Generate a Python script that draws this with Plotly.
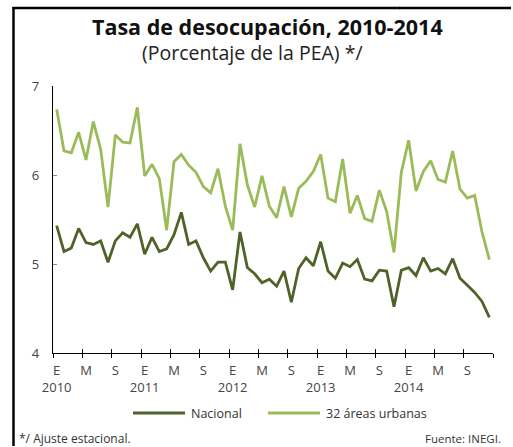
import plotly.graph_objects as go

# ---- data ----
years = [2010, 2011, 2012, 2013, 2014]
month_initials = ["E", "F", "M", "A", "M", "J", "J", "A", "S", "O", "N", "D"]
series_names = ["Nacional", "32 áreas urbanas"]

nacional = [
    5.43, 5.14, 5.18, 5.40, 5.24, 5.22, 5.26, 5.02, 5.26, 5.35, 5.30, 5.45,
    5.11, 5.30, 5.14, 5.17, 5.33, 5.58, 5.22, 5.26, 5.07, 4.92, 5.02, 5.02,
    4.71, 5.36, 4.96, 4.89, 4.79, 4.83, 4.75, 4.92, 4.57, 4.95, 5.07, 4.98,
    5.25, 4.92, 4.84, 5.01, 4.97, 5.05, 4.83, 4.81, 4.93, 4.92, 4.52, 4.93,
    4.96, 4.87, 5.07, 4.92, 4.95, 4.89, 5.06, 4.84, 4.76, 4.68, 4.58, 4.40,
]
urbanas = [
    6.74, 6.27, 6.25, 6.48, 6.17, 6.60, 6.29, 5.64, 6.45, 6.37, 6.36, 6.76,
    5.99, 6.12, 5.96, 5.38, 6.15, 6.23, 6.11, 6.03, 5.87, 5.80, 6.07, 5.65,
    5.38, 6.35, 5.89, 5.64, 5.99, 5.65, 5.52, 5.87, 5.53, 5.85, 5.93, 6.04,
    6.23, 5.74, 5.70, 6.18, 5.57, 5.77, 5.51, 5.48, 5.83, 5.59, 5.13, 6.03,
    6.39, 5.82, 6.04, 6.16, 5.95, 5.92, 6.27, 5.84, 5.74, 5.77, 5.36, 5.05,
]
y_ticks = [4, 5, 6, 7]

# ---- derived axis helpers ----
n = len(nacional)
x = list(range(n))
label_idx = list(range(0, n, 4))
label_text = []
for i in label_idx:
    m = i % 12
    t = month_initials[m]
    if m == 0:
        t = t + "<br>" + str(years[i // 12])
    label_text.append(t)
boundaries = [i - 0.5 for i in range(0, n + 1, 4)]

DARK = "#4F6228"
LIGHT = "#9BBB59"
FONT = "Open Sans"

fig = go.Figure()
fig.add_trace(go.Scatter(x=x, y=nacional, mode="lines", name=series_names[0],
                         line=dict(color=DARK, width=2.8), hoverinfo="skip",
                         showlegend=False))
fig.add_trace(go.Scatter(x=x, y=urbanas, mode="lines", name=series_names[1],
                         line=dict(color=LIGHT, width=2.8), hoverinfo="skip",
                         showlegend=False))
# invisible trace to activate the overlay axis used for inner tick halves
fig.add_trace(go.Scatter(x=x, y=nacional, mode="lines", xaxis="x2",
                         line=dict(width=0), opacity=0, showlegend=False,
                         hoverinfo="skip"))

W, H = 513, 447
L, R, T, B = 53, 20, 86, 94
pw, ph = W - L - R, H - T - B


def px(v):
    return (v - L) / pw


def py(v):
    return (H - B - v) / ph


# legend drawn as key lines + labels
legend_shapes = []
legend_notes = []
for name, col, x0 in [(series_names[0], DARK, 133), (series_names[1], LIGHT, 268)]:
    legend_shapes.append(dict(type="line", xref="paper", yref="paper",
                              x0=px(x0), x1=px(x0 + 52), y0=py(413), y1=py(413),
                              line=dict(color=col, width=3)))
    legend_notes.append(dict(text=name, xref="paper", yref="paper",
                             x=px(x0 + 56), y=py(413), xanchor="left",
                             yanchor="middle", showarrow=False,
                             font=dict(family=FONT, size=12.5, color="#333333")))

# frame: top rule (split in two segments) and left rule
frame_shapes = [
    dict(type="line", xref="paper", yref="paper",
         x0=px(12.5), x1=px(400), y0=py(8), y1=py(8),
         line=dict(color="black", width=2.5)),
    dict(type="line", xref="paper", yref="paper",
         x0=px(399), x1=px(511), y0=py(8), y1=py(8),
         line=dict(color="black", width=2.5)),
    dict(type="line", xref="paper", yref="paper",
         x0=px(13.5), x1=px(13.5), y0=py(7), y1=py(446),
         line=dict(color="black", width=2.5)),
]

fig.update_layout(
    width=W, height=H,
    margin=dict(l=L, r=R, t=T, b=B, pad=0),
    paper_bgcolor="white", plot_bgcolor="white",
    font=dict(family=FONT, size=12, color="#333333"),
    showlegend=False,
    xaxis=dict(range=[-0.5, n - 0.5], showgrid=False, zeroline=False,
               showline=True, linecolor="black", linewidth=1.2,
               tickmode="array", tickvals=label_idx, ticktext=label_text,
               ticks="", tickfont=dict(family=FONT, size=13, color="#444444"),
               ticklabelstandoff=5,
               minor=dict(tickmode="array", tickvals=boundaries,
                          ticks="outside", ticklen=4, tickcolor="black",
                          tickwidth=1, showgrid=False)),
    xaxis2=dict(range=[-0.5, n - 0.5], overlaying="x", anchor="y",
                side="bottom", showgrid=False, zeroline=False,
                showline=False, tickmode="array", tickvals=boundaries,
                ticks="inside", ticklen=4, tickcolor="black", tickwidth=1,
                showticklabels=False),
    yaxis=dict(range=[4, 7], showgrid=False, zeroline=False,
               showline=True, linecolor="black", linewidth=1.2,
               tickmode="array", tickvals=y_ticks, ticks="inside",
               ticklen=4, tickcolor="#888888", tickwidth=1,
               tickfont=dict(family=FONT, size=13, color="#444444"),
               ticklabelstandoff=10),
    annotations=[
        dict(text="<b>Tasa de desocupación, 2010-2014</b>", xref="paper",
             yref="paper", x=px(267), y=py(27), xanchor="center",
             yanchor="middle", showarrow=False,
             font=dict(family=FONT, size=21.5, color="#111111")),
        dict(text="(Porcentaje de la PEA) */", xref="paper", yref="paper",
             x=px(252), y=py(53), xanchor="center", yanchor="middle",
             showarrow=False,
             font=dict(family=FONT, size=19.5, color="#222222")),
        dict(text="*/ Ajuste estacional.", xref="paper", yref="paper",
             x=px(17), y=py(438), xanchor="left", yanchor="middle",
             showarrow=False,
             font=dict(family=FONT, size=12, color="#333333")),
        dict(text="Fuente: INEGI.", xref="paper", yref="paper",
             x=px(503), y=py(438), xanchor="right", yanchor="middle",
             showarrow=False,
             font=dict(family=FONT, size=11.5, color="#333333")),
    ] + legend_notes,
    shapes=frame_shapes + legend_shapes,
)

fig.write_html(
    "out.html",
    config={"displayModeBar": False},
    post_script="document.body.style.margin='0';"
                "document.body.style.overflow='hidden';",
)
